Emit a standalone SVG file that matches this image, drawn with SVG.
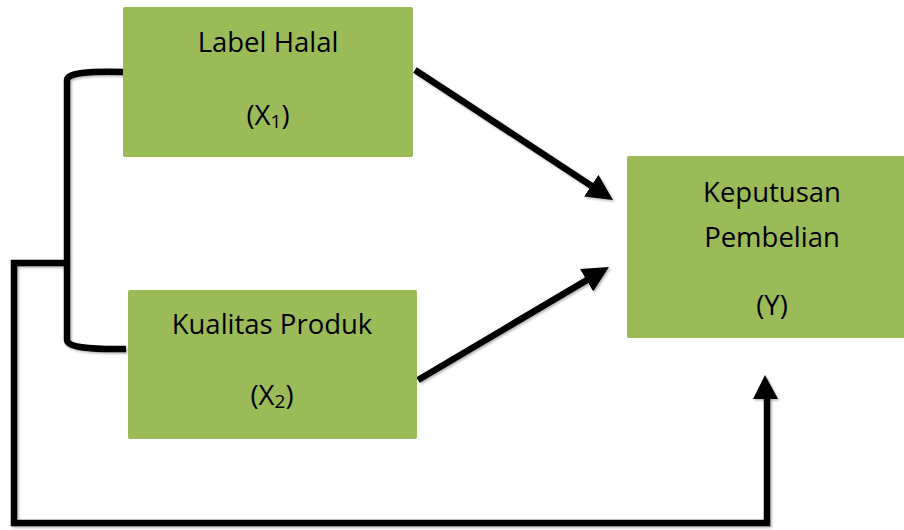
<svg xmlns="http://www.w3.org/2000/svg" width="904" height="530" viewBox="0 0 904 530">
<defs>
<filter id="sh" x="-10%" y="-10%" width="120%" height="120%">
<feDropShadow dx="1.5" dy="1.5" stdDeviation="1.2" flood-color="#000" flood-opacity="0.3"/>
</filter>
<marker id="ah" markerUnits="userSpaceOnUse" markerWidth="26" markerHeight="26" viewBox="0 0 26 26" refX="10" refY="13" orient="auto">
<path d="M0,0 L26,13 L0,26 Z" fill="#000"/>
</marker>
</defs>
<style>
.box{fill:#9BBB59;}
.t{font-family:"Open Sans","Liberation Sans",sans-serif;font-size:27.5px;fill:#000;text-anchor:middle;}
.sub{font-size:19px;}
.ln{fill:none;stroke:#000;stroke-width:6.5;filter:url(#sh);}
</style>
<rect width="904" height="530" fill="#fff"/>
<g id="connectors">
<path class="ln" d="M126,72 Q67,70 67,80 L67,340 Q67,350 126,349"/>
<path class="ln" d="M67,263 L14,263 L14,523 L767,523 L767,398" stroke-linejoin="miter"/>
<path d="M753,399 L765,375 L778,399 Z" fill="#000" filter="url(#sh)"/>
<path class="ln" d="M272,176 L272,282"/>
<path class="ln" d="M415,70 L599.6,191.2" marker-end="url(#ah)"/>
<path class="ln" d="M418,380 L595.2,275.1" marker-end="url(#ah)"/>
</g>
<g id="x1">
<rect class="box" x="123" y="7" width="290" height="150" rx="2"/>
<text class="t" x="268" y="52">Label Halal</text>
<text class="t" x="268" y="125">(X<tspan class="sub" dy="3">1</tspan><tspan dy="-3">)</tspan></text>
</g>
<g id="x2">
<rect class="box" x="128" y="290" width="289" height="149" rx="2"/>
<text class="t" x="272" y="334">Kualitas Produk</text>
<text class="t" x="272" y="405">(X<tspan class="sub" dy="3">2</tspan><tspan dy="-3">)</tspan></text>
</g>
<g id="y">
<rect class="box" x="627" y="156" width="290" height="182" rx="2"/>
<text class="t" x="772" y="202">Keputusan</text>
<text class="t" x="772" y="247">Pembelian</text>
<text class="t" x="772" y="315">(Y)</text>
</g>
</svg>
